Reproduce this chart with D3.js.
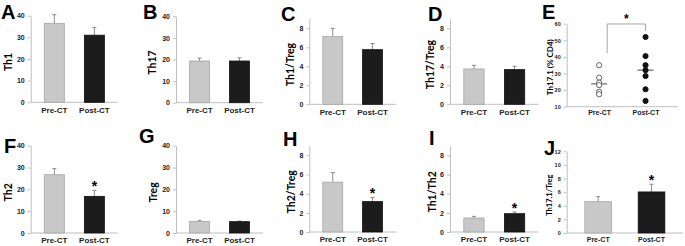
<!DOCTYPE html>
<html>
<head>
<meta charset="utf-8">
<script src="https://cdn.jsdelivr.net/npm/d3@7"></script>
<style>
  body { margin: 0; background: #fff; }
  svg { display: block; font-family: 'Lato', 'Liberation Sans', sans-serif; }
  .domain { stroke: #bfbfbf; }
  .tick line { stroke: #bfbfbf; }
</style>
</head>
<body>
<script>
// data
var groups = ['Pre-CT', 'Post-CT'];
var barPanels = ['A', 'B', 'C', 'D', 'F', 'G', 'H', 'I', 'J'];
var barLabels = ['Th1', 'Th17', 'Th1/Treg', 'Th17/Treg', 'Th2', 'Treg', 'Th2/Treg', 'Th1/Th2', 'Th17.1/Treg'];
var preMean  = [36.5, 19.3, 7.15, 3.72, 26.7, 5.3, 5.2, 1.46, 4.6];
var preErr   = [4.0, 1.4, 0.85, 0.38, 2.8, 0.5, 1.0, 0.17, 0.74];
var postMean = [31.0, 19.3, 5.75, 3.65, 16.8, 5.2, 3.17, 1.91, 6.03];
var postErr  = [3.6, 1.5, 0.65, 0.35, 2.7, 0.3, 0.43, 0.18, 1.13];
var starred  = [false, false, false, false, true, false, true, true, true];
var ticks40 = [0, 10, 20, 30, 40];
var ticks8 = [0, 2, 4, 6, 8];
var ticks12 = [0, 2, 4, 6, 8, 10, 12];
var barTicks = [ticks40, ticks40, ticks8, ticks8, ticks40, ticks40, ticks8, ticks8, ticks12];
var barMax = [40, 40, 9, 9, 40, 40, 9, 9, 12];

// panel E scatter
var eLabel = 'Th17.1 (% CD4)';
var eTicks = [10, 20, 30, 40, 50, 60];
var ePre = [35, 27.5, 24.5, 23, 19, 17.5];
var ePost = [52, 40.5, 35, 32, 28.5, 20.5, 13.5];

// layout (pixels)
var barLayout = [
  {x0: 30.7, x1: 118, y0: 102.3, y1: 15.7, lx: 1,   ly: 18.5, ylx: 8,     fs: 7, xs: 8, ls: 10.5, pad: 5},
  {x0: 176,  x1: 263, y0: 102.7, y1: 16.3, lx: 143, ly: 19,  ylx: 152,   fs: 7, xs: 8, ls: 10.5, pad: 5},
  {x0: 309.3, x1: 396, y0: 104.3, y1: 18.8, lx: 281, ly: 20.5, ylx: 290,   fs: 7, xs: 8, ls: 10.5, pad: 5},
  {x0: 450,  x1: 538.5, y0: 104.3, y1: 18.8, lx: 428, ly: 20.5, ylx: 430,  fs: 7, xs: 8, ls: 10.5, pad: 5},
  {x0: 30.7, x1: 118, y0: 233, y1: 145.7, lx: 4,   ly: 153, ylx: 8,     fs: 7, xs: 8, ls: 10.5, pad: 4.5},
  {x0: 176,  x1: 263, y0: 233, y1: 145.7, lx: 139, ly: 143, ylx: 152.5, fs: 7, xs: 8, ls: 10.5, pad: 4.5},
  {x0: 309.3, x1: 396, y0: 232, y1: 145.7, lx: 283, ly: 146, ylx: 291,  fs: 7, xs: 8, ls: 10.5, pad: 4.5},
  {x0: 450,  x1: 538.5, y0: 232, y1: 145.7, lx: 429, ly: 145, ylx: 432, fs: 7, xs: 8, ls: 10.5, pad: 4.5},
  {x0: 566.7, x1: 683, y0: 233, y1: 151.3, lx: 544, ly: 155, ylx: 549.5, fs: 5.5, xs: 7, ls: 7.5, pad: 4}
];
var eLayout = {x0: 566.7, x1: 678, y0: 106.7, y1: 23.7, lx: 542, ly: 19, ylx: 549.5};

var width = 685, height = 246;

var svg = d3.select('body').append('svg')
    .attr('width', width)
    .attr('height', height);

function panelLetter(txt, x, y) {
  svg.append('text')
    .attr('x', x).attr('y', y)
    .attr('font-family', 'Liberation Sans, Arial, sans-serif')
    .attr('font-weight', 900)
    .attr('font-size', 20)
    .text(txt);
}

function yTitle(txt, x, yMid, size) {
  svg.append('text')
    .attr('transform', `translate(${x}, ${yMid}) rotate(-90)`)
    .attr('text-anchor', 'middle')
    .attr('dominant-baseline', 'central')
    .attr('font-weight', 700)
    .attr('font-size', size)
    .text(txt);
}

barPanels.forEach(function(letter, i) {
  var L = barLayout[i];
  var g = svg.append('g');

  var xScale = d3.scaleBand()
      .domain(groups)
      .range([L.x0, L.x1])
      .paddingInner(0.5)
      .paddingOuter(0.34);
  var yScale = d3.scaleLinear()
      .domain([0, barMax[i]])
      .range([L.y0, L.y1]);

  var yAxis = d3.axisLeft(yScale)
      .tickValues(barTicks[i])
      .tickSizeInner(3)
      .tickSizeOuter(0)
      .tickPadding(3);
  var ga = g.append('g').attr('transform', `translate(${L.x0}, 0)`).call(yAxis);
  ga.selectAll('text').attr('font-size', L.fs).attr('font-weight', 700).attr('fill', '#222');

  var xAxis = d3.axisBottom(xScale).tickSize(0).tickPadding(L.pad);
  var gx = g.append('g').attr('transform', `translate(0, ${L.y0})`).call(xAxis);
  gx.select('.domain').attr('d', `M${L.x0},0H${L.x1}`);
  gx.selectAll('text').attr('font-size', L.xs).attr('font-weight', 700).attr('fill', '#222');

  var rows = [
    {grp: groups[0], m: preMean[i], e: preErr[i], fill: '#c8c8c8', stroke: '#a6a6a6'},
    {grp: groups[1], m: postMean[i], e: postErr[i], fill: '#1c1c1c', stroke: '#111'}
  ];

  // error bars (upper half only)
  rows.forEach(function(d) {
    var cx = xScale(d.grp) + xScale.bandwidth() / 2;
    g.append('line')
      .attr('x1', cx).attr('x2', cx)
      .attr('y1', yScale(d.m)).attr('y2', yScale(d.m + d.e))
      .attr('stroke', '#8c8c8c').attr('stroke-width', 1);
    g.append('line')
      .attr('x1', cx - 2).attr('x2', cx + 2)
      .attr('y1', yScale(d.m + d.e)).attr('y2', yScale(d.m + d.e))
      .attr('stroke', '#8c8c8c').attr('stroke-width', 1);
  });

  g.selectAll('rect.bar')
    .data(rows)
    .enter().append('rect')
    .attr('class', 'bar')
    .attr('x', d => xScale(d.grp))
    .attr('width', xScale.bandwidth())
    .attr('y', d => yScale(d.m))
    .attr('height', d => yScale(0) - yScale(d.m))
    .attr('fill', d => d.fill)
    .attr('stroke', d => d.stroke)
    .attr('stroke-width', 0.8);

  if (starred[i]) {
    var post = rows[1];
    g.append('text')
      .attr('x', xScale(post.grp) + xScale.bandwidth() / 2)
      .attr('y', yScale(post.m + post.e) - 1)
      .attr('text-anchor', 'middle')
      .attr('font-family', 'Liberation Sans, Arial, sans-serif')
      .attr('font-weight', 700)
      .attr('font-size', 14)
      .attr('dy', '0.55em')
      .attr('transform', 'translate(0,-6)')
      .text('*');
  }

  yTitle(barLabels[i], L.ylx, (L.y0 + L.y1) / 2 + 3, L.ls);
  panelLetter(letter, L.lx, L.ly);
});

// panel E: individual values with medians
(function() {
  var L = eLayout;
  var g = svg.append('g');
  var xScale = d3.scalePoint()
      .domain(groups)
      .range([L.x0, L.x1])
      .padding(0.7);
  var yScale = d3.scaleLinear()
      .domain([10, 60])
      .range([L.y0, L.y1]);

  var ga = g.append('g').attr('transform', `translate(${L.x0}, 0)`)
    .call(d3.axisLeft(yScale).tickValues(eTicks).tickSizeInner(3).tickSizeOuter(0).tickPadding(3));
  ga.selectAll('text').attr('font-size', 5.5).attr('font-weight', 700).attr('fill', '#222');

  var gx = g.append('g').attr('transform', `translate(0, ${L.y0})`)
    .call(d3.axisBottom(xScale).tickSize(0).tickPadding(3));
  gx.select('.domain').attr('d', `M${L.x0},0H${L.x1}`);
  gx.selectAll('text').attr('font-size', 7).attr('font-weight', 700).attr('fill', '#222');

  var sets = [
    {grp: groups[0], vals: ePre, fill: '#fff', stroke: '#555'},
    {grp: groups[1], vals: ePost, fill: '#111', stroke: '#111'}
  ];
  sets.forEach(function(s) {
    var cx = xScale(s.grp);
    var med = d3.median(s.vals);
    g.append('line')
      .attr('x1', cx - 8).attr('x2', cx + 8)
      .attr('y1', yScale(med)).attr('y2', yScale(med))
      .attr('stroke', '#8c8c8c').attr('stroke-width', 1.6);
    g.selectAll(null)
      .data(s.vals)
      .enter().append('circle')
      .attr('cx', cx)
      .attr('cy', d => yScale(d))
      .attr('r', 2.6)
      .attr('fill', s.fill)
      .attr('stroke', s.stroke)
      .attr('stroke-width', 0.9);
  });

  // significance bracket
  var xa = xScale(groups[0]) + 8, xb = xScale(groups[1]);
  var top = yScale(d3.max(ePost)) - 13;
  g.append('path')
    .attr('d', `M${xa},${yScale(d3.max(ePre)) - 12}V${top}H${xb}V${top + 7}`)
    .attr('fill', 'none')
    .attr('stroke', '#a6a6a6')
    .attr('stroke-width', 1);
  g.append('text')
    .attr('x', (xa + xb) / 2)
    .attr('y', top - 1)
    .attr('text-anchor', 'middle')
    .attr('font-family', 'Liberation Sans, Arial, sans-serif')
    .attr('font-weight', 700)
    .attr('font-size', 12)
    .text('*');

  yTitle(eLabel, L.ylx, (L.y0 + L.y1) / 2 + 2, 8);
  panelLetter('E', L.lx, L.ly);
})();
</script>
</body>
</html>
